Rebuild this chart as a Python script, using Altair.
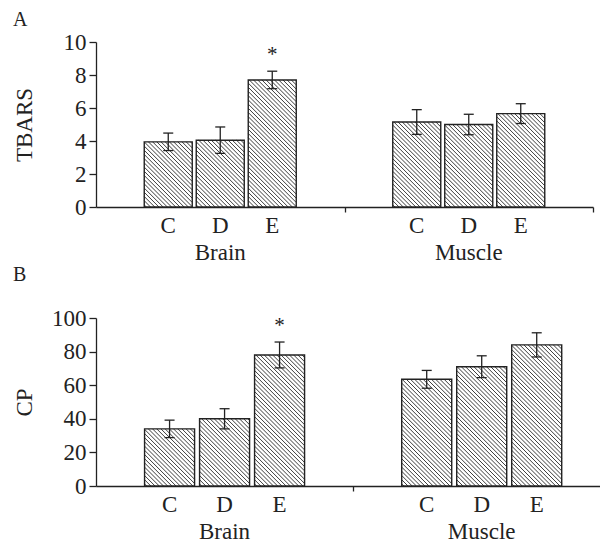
import altair as alt
import pandas as pd

# ---- data ----
groups = ["Brain", "Brain", "Brain", "Muscle", "Muscle", "Muscle"]
conds = ["C", "D", "E", "C", "D", "E"]
tbars = [3.95, 4.05, 7.7, 5.15, 5.0, 5.66]
tbars_err = [0.53, 0.8, 0.53, 0.75, 0.62, 0.6]
cp = [34, 40, 78, 63.5, 71, 84]
cp_err = [5.2, 6.0, 7.7, 5.3, 6.5, 7.2]
stars = ["", "", "*", "", "", ""]
group_names = ["Brain", "Muscle"]
group_pos = [1, 3]
cond_index = [-1, 0, 1, -1, 0, 1]

FONT = "Liberation Serif"
INK = "#222222"
FS = 23


def panel(values, errs, ymax, ytick, ytitle, W, H, xmax, bw_px, step_px,
          letters):
    ppx = W / xmax
    ppy = H / ymax
    gmap = dict(zip(group_names, group_pos))
    rows = []
    for g, c, i, v, e, s in zip(groups, conds, cond_index, values, errs, stars):
        xc = gmap[g] + i * step_px / ppx
        rows.append(dict(group=g, cond=c, xc=xc,
                         x0=xc - bw_px / 2 / ppx, x1=xc + bw_px / 2 / ppx,
                         v=v, zero=0, lo=v - e, hi=v + e, star=s))
    df = pd.DataFrame(rows)

    # hatch lines ("\\" direction) clipped to each bar, built from bar data
    s = 4.2
    hrows = []
    for r in rows:
        h = r["v"] * ppy
        k = s / 2
        while k < bw_px + h:
            u1 = max(0.0, k - h)
            u2 = min(bw_px, k)
            hrows.append(dict(hx=r["x0"] + u1 / ppx, hy=(k - u1) / ppy,
                              hx2=r["x0"] + u2 / ppx, hy2=(k - u2) / ppy))
            k += s
    hdf = pd.DataFrame(hrows)
    gdf = pd.DataFrame(dict(name=group_names, pos=group_pos))

    xscale = alt.Scale(domain=[0, xmax], nice=False, zero=False)
    yscale = alt.Scale(domain=[0, ymax], nice=False)
    xaxis = alt.Axis(values=[2, 4], labels=False, tickSize=5, title=None,
                     grid=False, domainColor=INK, tickColor=INK,
                     domainWidth=1.3, tickWidth=1.3)
    yaxis = alt.Axis(values=list(range(0, ymax + 1, ytick)), tickSize=7,
                     labelPadding=3, title=ytitle, grid=False,
                     titleX=-60, titleY=H / 2, titleAngle=-90,
                     titleBaseline="bottom", titleAlign="center",
                     domainColor=INK, tickColor=INK, domainWidth=1.3,
                     tickWidth=1.3)

    def X(f):
        return alt.X(f, type="quantitative", scale=xscale, axis=xaxis)

    def Y(f):
        return alt.Y(f, type="quantitative", scale=yscale, axis=yaxis)

    bars = alt.Chart(df).mark_rect(fill="white").encode(
        x=X("x0"), x2="x1", y=Y("v"), y2="zero")
    hatch = alt.Chart(hdf).mark_rule(color="#333333", strokeWidth=0.95).encode(
        x=X("hx"), y=Y("hy"), x2="hx2", y2="hy2")
    outline = alt.Chart(df).mark_rect(fillOpacity=0, stroke=INK,
                                      strokeWidth=1.4).encode(
        x=X("x0"), x2="x1", y=Y("v"), y2="zero")
    err = alt.Chart(df).mark_rule(color=INK, strokeWidth=1.3).encode(
        x=X("xc"), y=Y("lo"), y2="hi")
    cap_hi = alt.Chart(df).mark_rule(color=INK, strokeWidth=1.3,
                                     xOffset=-5, x2Offset=5).encode(
        x=X("xc"), x2="xc", y=Y("hi"))
    cap_lo = alt.Chart(df).mark_rule(color=INK, strokeWidth=1.3,
                                     xOffset=-5, x2Offset=5).encode(
        x=X("xc"), x2="xc", y=Y("lo"))
    star = alt.Chart(df).mark_text(baseline="alphabetic", dy=-10,
                                   fontSize=21).encode(
        x=X("xc"), y=Y("hi"), text="star:N")
    clab = alt.Chart(df).mark_text(baseline="middle", fontSize=FS).encode(
        x=X("xc"), y=alt.value(H + 19), text="cond:N")
    glab = alt.Chart(gdf).mark_text(baseline="middle", fontSize=FS).encode(
        x=X("pos"), y=alt.value(H + 46), text="name:N")
    layers = [bars, hatch, outline, err, cap_hi, cap_lo, star, clab, glab]
    for txt, ly in letters:
        layers.append(alt.Chart(gdf.head(1)).mark_text(
            align="left", baseline="alphabetic", fontSize=20).encode(
            x=alt.value(-83), y=alt.value(ly), text=alt.value(txt)))
    return alt.layer(*layers).properties(width=W, height=H)


pa = panel(tbars, tbars_err, 10, 2, "TBARS", 497, 165, 4.0, 48, 52,
           [("A", -16), ("B", 165 + 74)])
pb = panel(cp, cp_err, 100, 20, "CP", 504, 168, 3.92, 50, 55, [])

chart = alt.vconcat(pa, pb, spacing=20).properties(
    padding={"left": 5, "top": 2, "right": 0, "bottom": 0}
).configure_view(strokeWidth=0).configure_axis(
    labelFont=FONT, labelFontSize=FS, labelColor=INK,
    titleFont=FONT, titleFontSize=FS, titleColor=INK, titleFontWeight="normal"
).configure_text(font=FONT, color=INK)

chart.save("out.html", embed_options={"renderer": "svg", "actions": False})
